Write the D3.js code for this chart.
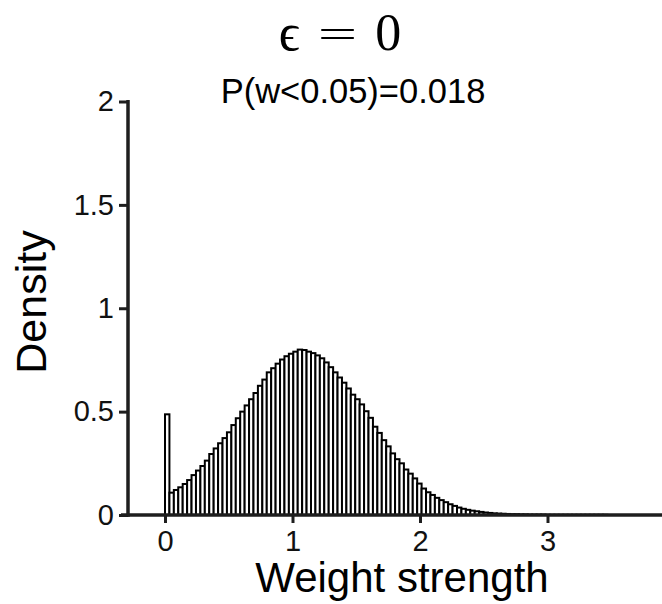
<!DOCTYPE html>
<html>
<head>
<meta charset="utf-8">
<script src="https://cdn.jsdelivr.net/npm/d3@7"></script>
<style>
  html, body { margin: 0; padding: 0; background: #fff; }
  svg { display: block; }
</style>
</head>
<body>
<svg id="chart" width="662" height="604"></svg>
<script>
// ---- data ----
const binWidth = 0.0347;
const density = [
  0.487, 0.108, 0.121, 0.134, 0.150, 0.169, 0.193, 0.215, 0.237, 0.263,
  0.295, 0.322, 0.347, 0.372, 0.400, 0.435, 0.468, 0.500, 0.530, 0.560,
  0.590, 0.625, 0.655, 0.690, 0.710, 0.732, 0.752, 0.768, 0.780, 0.790,
  0.800, 0.798, 0.790, 0.783, 0.772, 0.758, 0.738, 0.715, 0.690, 0.665,
  0.640, 0.612, 0.582, 0.560, 0.535, 0.502, 0.470, 0.427, 0.397, 0.362,
  0.332, 0.298, 0.270, 0.250, 0.220, 0.200, 0.177, 0.152, 0.128, 0.110,
  0.097, 0.083, 0.072, 0.062, 0.052, 0.044, 0.036, 0.030, 0.025, 0.021,
  0.018, 0.015, 0.012, 0.010, 0.008, 0.007, 0.006, 0.005, 0.004, 0.004,
  0.003, 0.003, 0.002, 0.002, 0.002, 0.002, 0.001, 0.001, 0.001, 0.001,
  0.001, 0.001, 0.001, 0.001, 0.001, 0.001, 0.001, 0.001, 0.001, 0.001
];
const xTicks = [0, 1, 2, 3];
const yTicks = [0, 0.5, 1, 1.5, 2];
const yTickLabels = ["0", "0.5", "1", "1.5", "2"];
const titleParts = ["\u03F5", "=", "0"];
const subtitleText = "P(w<0.05)=0.018";
const xLabel = "Weight strength";
const yLabel = "Density";

// ---- layout ----
const svg = d3.select("#chart");
const x = d3.scaleLinear().domain([0, 3]).range([165, 547.5]);
const y = d3.scaleLinear().domain([0, 2]).range([515, 101.5]);
const axisColor = "#1e1e1e";
const font = "'Liberation Sans', Arial, Helvetica, sans-serif";

// bars
svg.append("g").selectAll("rect")
  .data(density)
  .join("rect")
  .attr("x", (d, i) => x(i * binWidth))
  .attr("width", (d, i) => x((i + 1) * binWidth) - x(i * binWidth))
  .attr("y", d => y(d))
  .attr("height", d => y(0) - y(d))
  .attr("fill", "#fff")
  .attr("stroke", "#000")
  .attr("stroke-width", 2);

// x axis
const xAxis = d3.axisBottom(x).tickValues(xTicks).tickFormat(d3.format("d"))
  .tickSize(8).tickPadding(7);
const gx = svg.append("g").attr("transform", `translate(0,${y(0)})`).call(xAxis);
gx.select(".domain").remove();
gx.append("line").attr("x1", 121).attr("x2", 662).attr("y1", 0).attr("y2", 0)
  .attr("stroke", axisColor).attr("stroke-width", 3.5);
gx.selectAll(".tick line").attr("stroke", axisColor).attr("stroke-width", 3);
gx.selectAll(".tick text").attr("font-family", font).attr("font-size", 29)
  .attr("fill", "#111");

// y axis
const yAxis = d3.axisLeft(y).tickValues(yTicks)
  .tickFormat((d, i) => yTickLabels[i]).tickSize(9).tickPadding(5);
const gy = svg.append("g").attr("transform", "translate(128,0)").call(yAxis);
gy.select(".domain").remove();
gy.append("line").attr("x1", 0).attr("x2", 0).attr("y1", y(2) - 1.5).attr("y2", y(0) + 1.7)
  .attr("stroke", axisColor).attr("stroke-width", 3.5);
gy.selectAll(".tick line").attr("stroke", axisColor).attr("stroke-width", 3);
gy.selectAll(".tick text").attr("font-family", font).attr("font-size", 29)
  .attr("fill", "#111");

// axis labels
svg.append("text").attr("x", 402).attr("y", 592).attr("text-anchor", "middle")
  .attr("font-family", font).attr("font-size", 42).attr("fill", "#000").text(xLabel);
svg.append("text").attr("transform", "translate(46,302) rotate(-90)")
  .attr("text-anchor", "middle")
  .attr("font-family", font).attr("font-size", 43).attr("fill", "#000").text(yLabel);

// title (math-style)
const title = svg.append("text").attr("x", 340).attr("y", 50).attr("text-anchor", "middle")
  .attr("font-size", 52).attr("fill", "#000");
title.append("tspan").attr("font-family", "'Liberation Serif', serif").text(titleParts[0]);
title.append("tspan").attr("dx", 16).attr("font-family", "'DejaVu Sans', sans-serif")
  .attr("font-weight", 300).text(titleParts[1]);
title.append("tspan").attr("dx", 16).attr("font-family", "'Liberation Serif', serif").text(titleParts[2]);

svg.append("text").attr("x", 353).attr("y", 103).attr("text-anchor", "middle")
  .attr("font-family", font).attr("font-size", 34.5).attr("fill", "#000").text(subtitleText);
</script>
</body>
</html>
